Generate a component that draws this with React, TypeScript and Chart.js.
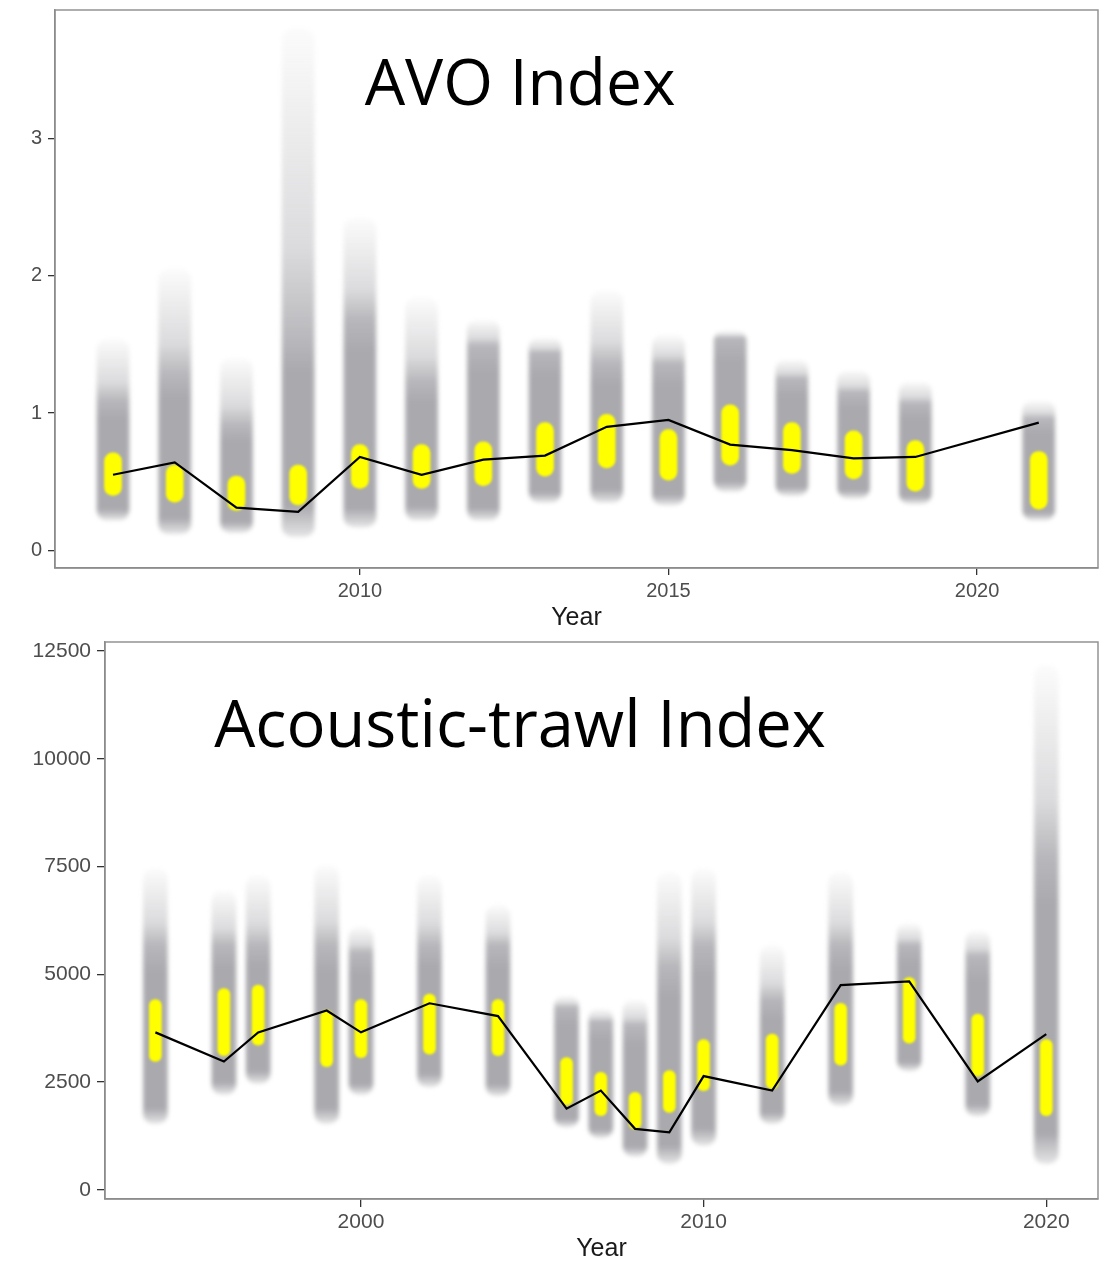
import React, { useEffect, useRef } from 'react';
import { Chart, registerables } from 'chart.js';

Chart.register(...registerables);

// ---------- AVO Index (top panel) ----------
const avoYears = [2006, 2007, 2008, 2009, 2010, 2011, 2012, 2013, 2014, 2015, 2016, 2017, 2018, 2019, 2021];
const avoIndex = [0.55, 0.64, 0.31, 0.28, 0.68, 0.55, 0.66, 0.69, 0.9, 0.95, 0.77, 0.73, 0.67, 0.68, 0.93];
const avoLow = [0.22, 0.12, 0.13, 0.1, 0.17, 0.22, 0.22, 0.35, 0.35, 0.33, 0.43, 0.4, 0.38, 0.34, 0.22];
const avoDenseTop = [1.09, 1.28, 0.91, 1.52, 1.68, 1.23, 1.49, 1.44, 1.36, 1.36, 1.55, 1.25, 1.15, 1.07, 0.96];
const avoTailTop = [1.54, 2.05, 1.4, 3.8, 2.42, 1.84, 1.68, 1.55, 1.89, 1.57, 1.6, 1.39, 1.31, 1.23, 1.09];
const avoCoreLow = [0.4, 0.35, 0.29, 0.33, 0.45, 0.45, 0.47, 0.54, 0.6, 0.51, 0.62, 0.56, 0.52, 0.43, 0.3];
const avoCoreHigh = [0.71, 0.62, 0.54, 0.62, 0.77, 0.77, 0.79, 0.93, 0.99, 0.88, 1.06, 0.93, 0.87, 0.8, 0.72];
const avoXTicks = [2010, 2015, 2020];
const avoYTicks = [0, 1, 2, 3];

// ---------- Acoustic-trawl Index (bottom panel) ----------
const atYears = [1994, 1996, 1997, 1999, 2000, 2002, 2004, 2006, 2007, 2008, 2009, 2010, 2012, 2014, 2016, 2018, 2020];
const atIndex = [3651, 2975, 3651, 4157, 3651, 4326, 4030, 1880, 2300, 1413, 1330, 2637, 2300, 4747, 4833, 2512, 3609];
const atLow = [1540, 2216, 2470, 1540, 2216, 2390, 2180, 1460, 1207, 780, 613, 1033, 1540, 1960, 2762, 1717, 613];
const atDenseTop = [5675, 5675, 5675, 5675, 5508, 5675, 5675, 4240, 3904, 3818, 5176, 5675, 4410, 5675, 5675, 5422, 7705];
const atTailTop = [7450, 6940, 7290, 7530, 6100, 7290, 6603, 4500, 4200, 4410, 7365, 7450, 5675, 7365, 6183, 6010, 12170];
const atCoreLow = [2975, 3110, 3354, 2855, 3064, 3145, 3110, 1960, 1717, 1413, 1794, 2298, 2344, 2890, 3398, 2637, 1717];
const atCoreHigh = [4410, 4665, 4747, 4155, 4410, 4538, 4410, 3064, 2722, 2258, 2762, 3482, 3609, 4326, 4920, 4073, 3482];
const atXTicks = [2000, 2010, 2020];
const atYTicks = [0, 2500, 5000, 7500, 10000, 12500];

type Panel = {
  years: number[];
  index: number[];
  low: number[];
  denseTop: number[];
  tailTop: number[];
  coreLow: number[];
  coreHigh: number[];
  xTicks: number[];
  yTicks: number[];
  xMin: number;
  xMax: number;
  yMin: number;
  yMax: number;
  yAxisWidth: number;
  xAxisHeight: number;
  colWidth: number;
  coreWidth: number;
  xTickFont: number;
  yTickFont: number;
  tickLen: number;
  yPad: number;
  xPad: number;
};

const G = '166,165,170';

const framePlugin = {
  id: 'frame',
  beforeDatasetsDraw(chart: any) {
    const { ctx, chartArea: a } = chart;
    ctx.save();
    ctx.strokeStyle = '#8c8c8c';
    ctx.lineWidth = 1.4;
    ctx.strokeRect(a.left, a.top, a.right - a.left, a.bottom - a.top);
    ctx.restore();
  },
};

// soft edges like the blurred density columns of the original
const blurPlugin = {
  id: 'softBlur',
  beforeDatasetDraw(chart: any, args: any) {
    const ds = chart.data.datasets[args.index];
    const b = ds && ds.softBlur;
    if (b) {
      chart.ctx.save();
      chart.ctx.filter = `blur(${b}px)`;
    }
  },
  afterDatasetDraw(chart: any, args: any) {
    const ds = chart.data.datasets[args.index];
    if (ds && ds.softBlur) chart.ctx.restore();
  },
};

function buildConfig(p: Panel): any {
  // one column per year: dense body from low to denseTop, fading tail up to tailTop
  const columnFill = (ctx: any) => {
    const fallback = `rgba(${G},0.9)`;
    const chart = ctx.chart;
    const ys = chart.scales && chart.scales.y;
    const i = ctx.dataIndex;
    if (!ys || i == null) return fallback;
    const b = ys.getPixelForValue(p.low[i]);
    const m = ys.getPixelForValue(p.denseTop[i]);
    const t = ys.getPixelForValue(p.tailTop[i]);
    if (![b, m, t].every(isFinite) || b === t) return fallback;
    const f = Math.min(1, Math.max(0, (b - m) / (b - t)));
    const g = chart.ctx.createLinearGradient(0, b, 0, t);
    const stops: [number, number][] = [
      [0, 0.3],
      [Math.min(0.06, f * 0.3), 0.95],
      [f * 0.85, 0.95],
      [f, 0.8],
      [f + (1 - f) * 0.3, 0.4],
      [1, 0.04],
    ];
    stops.forEach(([o, a]) => g.addColorStop(Math.min(1, Math.max(0, o)), `rgba(${G},${a})`));
    return g;
  };

  const fam = '"Liberation Sans", Arial, sans-serif';
  const gridCommon = {
    display: true,
    drawOnChartArea: false,
    drawTicks: true,
    tickLength: p.tickLen,
    color: '#333333',
    tickColor: '#333333',
    lineWidth: 1.3,
    offset: false,
  };

  return {
    type: 'bar',
    data: {
      datasets: [
        {
          type: 'line',
          label: 'index',
          data: p.years.map((x, i) => ({ x, y: p.index[i] })),
          borderColor: '#000000',
          borderWidth: 2.2,
          pointRadius: 0,
          tension: 0,
          order: 0,
        },
        {
          type: 'bar',
          label: 'core',
          data: p.years.map((x, i) => ({ x, y: [p.coreLow[i], p.coreHigh[i]] })),
          backgroundColor: '#ffff00',
          barThickness: p.coreWidth,
          borderRadius: 40,
          borderSkipped: false,
          grouped: false,
          softBlur: 0.8,
          order: 1,
        },
        {
          type: 'bar',
          label: 'column',
          data: p.years.map((x, i) => ({ x, y: [p.low[i], p.tailTop[i]] })),
          backgroundColor: columnFill,
          barThickness: p.colWidth,
          borderRadius: 10,
          borderSkipped: false,
          grouped: false,
          softBlur: 2,
          order: 2,
        },
      ],
    },
    options: {
      animation: false,
      responsive: false,
      maintainAspectRatio: false,
      layout: { padding: { top: 10, right: 7, left: 0, bottom: 0 } },
      plugins: { legend: { display: false }, tooltip: { enabled: false }, title: { display: false } },
      scales: {
        x: {
          type: 'linear',
          min: p.xMin,
          max: p.xMax,
          offset: false,
          grid: gridCommon,
          border: { display: true, color: '#8c8c8c', width: 1.4 },
          ticks: {
            font: { family: fam, size: p.xTickFont },
            color: '#4d4d4d',
            padding: p.xPad,
            autoSkip: false,
            maxRotation: 0,
            callback: (v: any) => String(v),
          },
          title: {
            display: true,
            text: 'Year',
            color: '#1a1a1a',
            font: { family: fam, size: 25, lineHeight: 1 },
            padding: 0,
          },
          afterBuildTicks: (sc: any) => {
            sc.ticks = p.xTicks.map((v) => ({ value: v }));
          },
          afterFit: (sc: any) => {
            sc.height = p.xAxisHeight;
            sc.paddingLeft = 0;
            sc.paddingRight = 0;
          },
        },
        y: {
          type: 'linear',
          min: p.yMin,
          max: p.yMax,
          grid: gridCommon,
          border: { display: true, color: '#8c8c8c', width: 1.4 },
          ticks: {
            font: { family: fam, size: p.yTickFont },
            color: '#4d4d4d',
            padding: p.yPad,
            callback: (v: any) => String(v),
          },
          afterBuildTicks: (sc: any) => {
            sc.ticks = p.yTicks.map((v) => ({ value: v }));
          },
          afterFit: (sc: any) => {
            sc.width = p.yAxisWidth;
            sc.paddingTop = 0;
            sc.paddingBottom = 0;
          },
        },
      },
    },
    plugins: [framePlugin, blurPlugin],
  };
}

const avoPanel: Panel = {
  years: avoYears,
  index: avoIndex,
  low: avoLow,
  denseTop: avoDenseTop,
  tailTop: avoTailTop,
  coreLow: avoCoreLow,
  coreHigh: avoCoreHigh,
  xTicks: avoXTicks,
  yTicks: avoYTicks,
  xMin: 2005.06,
  xMax: 2021.96,
  yMin: -0.13,
  yMax: 3.94,
  yAxisWidth: 55,
  xAxisHeight: 63,
  colWidth: 32,
  coreWidth: 17,
  xTickFont: 20,
  yTickFont: 20,
  tickLen: 7,
  yPad: 6,
  xPad: 4,
};

const atPanel: Panel = {
  years: atYears,
  index: atIndex,
  low: atLow,
  denseTop: atDenseTop,
  tailTop: atTailTop,
  coreLow: atCoreLow,
  coreHigh: atCoreHigh,
  xTicks: atXTicks,
  yTicks: atYTicks,
  xMin: 1992.53,
  xMax: 2021.51,
  yMin: -215,
  yMax: 12709,
  yAxisWidth: 105,
  xAxisHeight: 63,
  colWidth: 24,
  coreWidth: 12,
  xTickFont: 21,
  yTickFont: 21,
  tickLen: 8,
  yPad: 6,
  xPad: 3,
};

function PanelChart({ panel, top, height }: { panel: Panel; top: number; height: number }) {
  const ref = useRef<HTMLCanvasElement | null>(null);
  useEffect(() => {
    if (!ref.current) return;
    const chart = new Chart(ref.current, buildConfig(panel));
    return () => chart.destroy();
  }, [panel]);
  return (
    <canvas
      ref={ref}
      width={1105}
      height={height}
      style={{ position: 'absolute', left: 0, top, width: 1105, height }}
    />
  );
}

const titleStyle: React.CSSProperties = {
  position: 'absolute',
  left: 0,
  width: 1040,
  textAlign: 'center',
  fontFamily: '"Open Sans", "Noto Sans", sans-serif',
  fontSize: 64,
  lineHeight: '64px',
  color: '#000',
  whiteSpace: 'nowrap',
  pointerEvents: 'none',
};

export default function App() {
  return (
    <div
      style={{
        position: 'absolute',
        left: 0,
        top: 0,
        width: 1105,
        height: 1263,
        overflow: 'hidden',
        background: '#ffffff',
      }}
    >
      <PanelChart panel={avoPanel} top={0} height={631} />
      <PanelChart panel={atPanel} top={632} height={630} />
      <div style={{ ...titleStyle, top: 49 }}>AVO Index</div>
      <div style={{ ...titleStyle, top: 690, fontSize: 65, lineHeight: '65px' }}>Acoustic-trawl Index</div>
    </div>
  );
}
